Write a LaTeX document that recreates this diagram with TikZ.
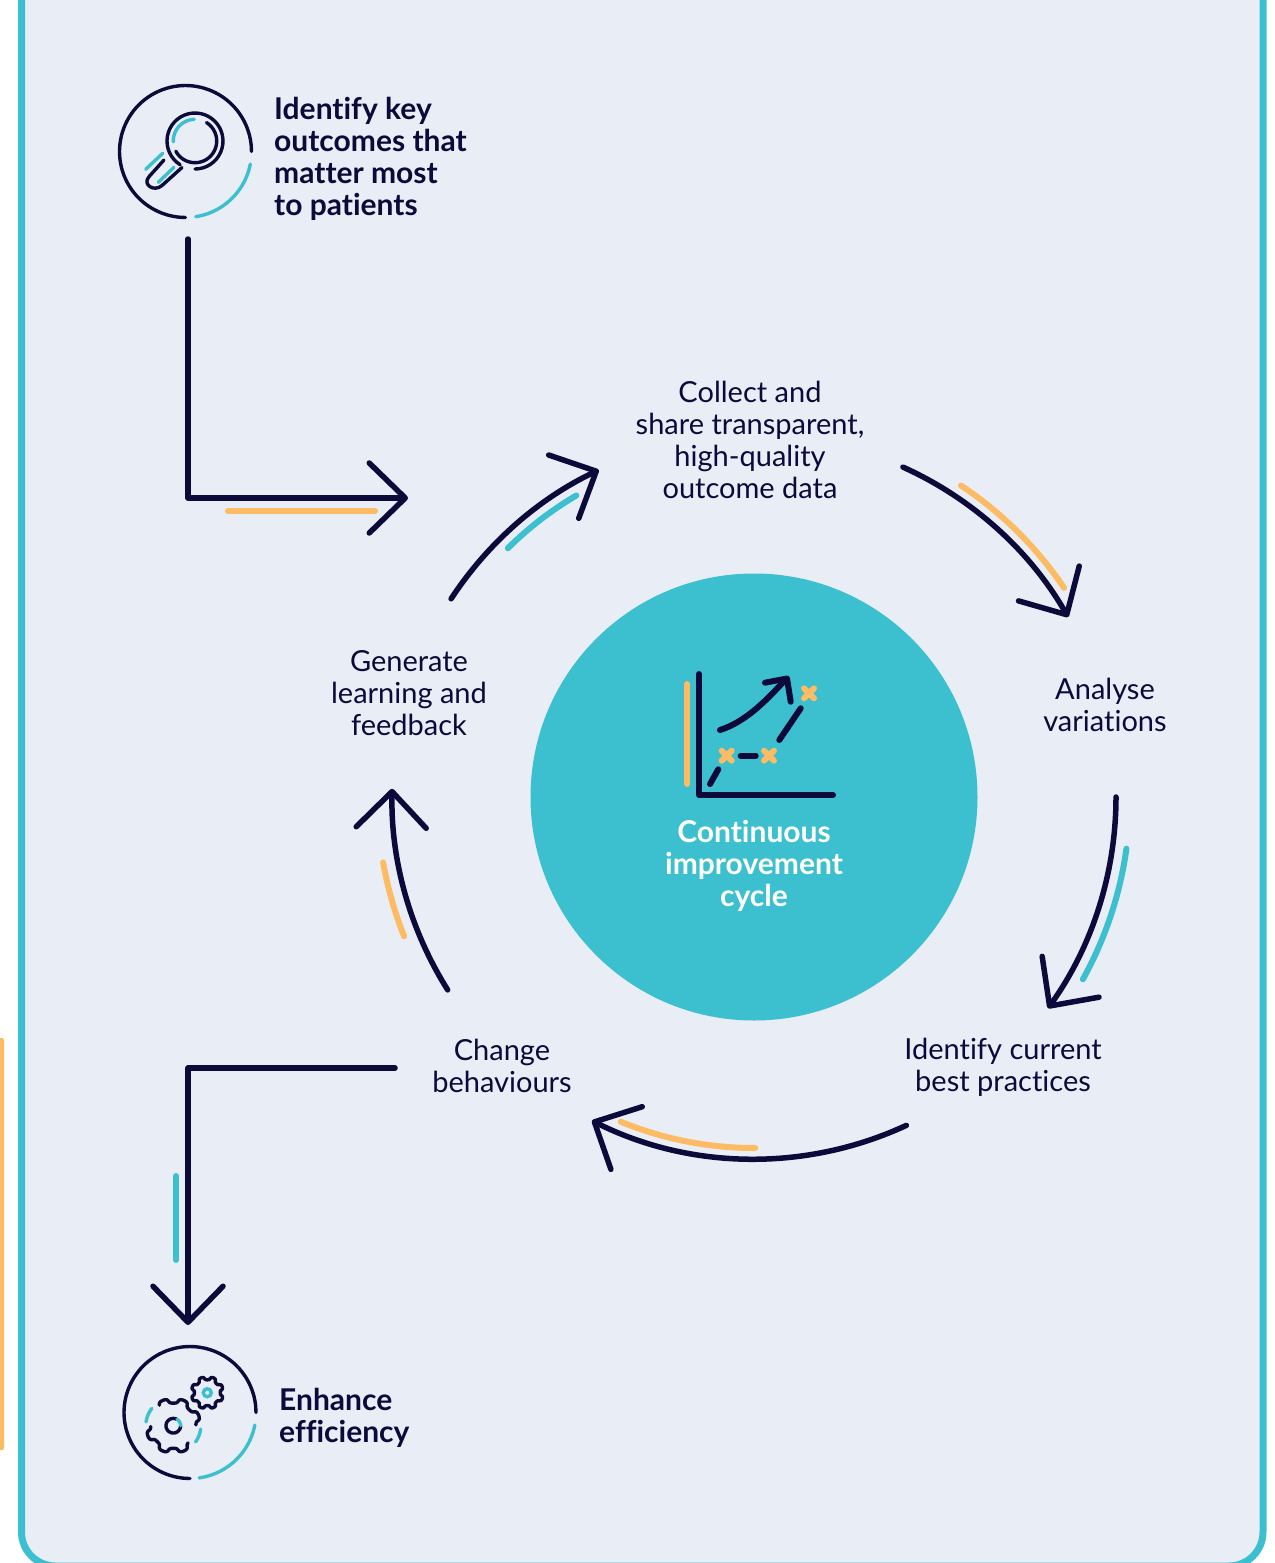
\documentclass[tikz,border=0pt]{standalone}
\usepackage{fontspec}
\setmainfont[Ligatures=CommonOff]{Lato}
\usetikzlibrary{arrows.meta}
\definecolor{navy}{HTML}{0B0A3A}
\definecolor{teal2}{HTML}{3CBFCF}
\definecolor{amber}{HTML}{FDBB63}
\definecolor{panel}{HTML}{E9EDF5}
\tikzset{
  flow/.style={draw=navy,line width=5.5pt,line cap=round,line join=round,
    -{Straight Barb[length=36pt,width=70pt,round,line width=5.5pt]}},
  plainline/.style={draw=navy,line width=3.4pt,line cap=round,line join=round},
  tealline/.style={draw=teal2,line width=3.4pt,line cap=round},
  accentO/.style={draw=amber,line width=6pt,line cap=round},
  accentT/.style={draw=teal2,line width=6pt,line cap=round},
  label/.style={font=\fontsize{29}{32}\selectfont,text=navy,align=center,inner sep=0pt},
  boldlabel/.style={font=\fontsize{30}{32}\selectfont\bfseries,text=navy,align=left,inner sep=0pt},
  chartline/.style={draw=navy,line width=6pt,line cap=round,line join=round},
  chartx/.style={draw=amber,line width=6pt,line cap=round},
}
% style, start angle, end angle, radius, name
\newcommand\cyc[5]{%
  \pgfmathsetmacro\kk{4/3*tan((#3-#2)/4)*#4}%
  \coordinate (#5a) at ({754+#4*cos(#2)},{797+#4*sin(#2)});
  \coordinate (#5b) at ({754+#4*cos(#3)},{797+#4*sin(#3)});
  \coordinate (#5c) at ({754+#4*cos(#2)-\kk*sin(#2)},{797+#4*sin(#2)+\kk*cos(#2)});
  \coordinate (#5d) at ({754+#4*cos(#3)+\kk*sin(#3)},{797+#4*sin(#3)-\kk*cos(#3)});
  \draw[#1] (#5a) .. controls (#5c) and (#5d) .. (#5b);
}
% style, cx, cy, r, a1, a2
\newcommand\circarc[6]{\draw[#1] plot[smooth,domain=#5:#6,samples=40,variable=\t] ({#2+#4*cos(\t)},{#3+#4*sin(\t)});}
% style,cx,cy,R,a,a1,a2,phase
\newcommand\geararc[8]{\draw[#1] plot[smooth,domain=#6:#7,samples=120,variable=\t] ({#2+(#4+#5*atan(3*cos(8*(\t+#8)))/71.6)*cos(\t)},{#3+(#4+#5*atan(3*cos(8*(\t+#8)))/71.6)*sin(\t)});}
\begin{document}
\begin{tikzpicture}[x=1pt,y=-1pt]
\clip (0,0) rectangle (1274,1563);
\fill[white] (0,0) rectangle (1274,1563);
% panel
\draw[draw=teal2,fill=panel,line width=7pt,rounded corners=34pt] (21.5,-60) rectangle (1263,1566);
\fill[amber,rounded corners=2pt] (-6,1038) rectangle (4,1450);

% centre
\node[circle,fill=teal2,minimum size=447pt,inner sep=0pt] (hub) at (754,797) {};
\node[font=\fontsize{30}{32}\selectfont\bfseries,text=white,align=center,inner sep=0pt] (hubtext) at (754,865.5) {Continuous\\improvement\\cycle};
% chart icon
\draw[chartline] (699,674) -- (699,795) -- (833,795);
\draw[accentO] (687.3,684) -- (687.3,784);
\draw[chartline] (720,730) .. controls (745,722) and (765,702) .. (786,679);
\draw[chartline] (765,682.7) -- (787,678.5) -- (790.7,701.7);
\draw[chartline] (710,784) -- (718.3,769.3);
\draw[chartline] (740.7,755.7) -- (755.7,755.7);
\draw[chartline] (779.3,740) -- (800.7,708.3);
\foreach \px/\py in {726.7/755.7,769/755.7,809/693.3}
  \draw[chartx] (\px-5,\py-5) -- (\px+5,\py+5) (\px-5,\py+5) -- (\px+5,\py-5);

% labels
\node[boldlabel,anchor=north west] (top) at (274,97.5) {Identify key\\outcomes that\\matter most\\to patients};
\node[boldlabel,anchor=north west] (bot) at (279,1387.5) {Enhance\\efficiency};
\node[label] (collect) at (750,439.5) {Collect and\\share transparent,\\high-quality\\outcome data};
\node[label] (analyse) at (1105,704.5) {Analyse\\variations};
\node[label] (best) at (1003,1067.5) {Identify current\\best practices};
\node[label] (change) at (502,1065.5) {Change\\behaviours};
\node[label] (gen) at (409,693.5) {Generate\\learning and\\feedback};

% straight connectors
\coordinate (iconout) at (188,239);
\coordinate (bend1) at (188,498);
\coordinate (into) at (408,498);
\draw[flow] (iconout) -- (bend1) -- (into);
\draw[accentO] (228,511) -- (375,511);
\coordinate (fromchange) at (395,1068);
\coordinate (bend2) at (188,1068);
\coordinate (iconin) at (188,1325);
\draw[flow] (fromchange) -- (bend2) -- (iconin);
\draw[accentT] (176,1176) -- (176,1260);

% cycle arrows
\cyc{flow}{213.2}{244.6}{362}{ga}
\cyc{flow}{-65.7}{-29.8}{362}{ca}
\cyc{flow}{0}{35.7}{362}{aa}
\cyc{flow}{65.1}{116.6}{362}{ba}
\cyc{flow}{147.8}{181.3}{362}{ha}
\cyc{accentO}{-56.4}{-34}{374}{o1}
\cyc{accentT}{7.9}{29}{376}{t1}
\cyc{accentO}{112.3}{89.8}{351}{o2}
\cyc{accentO}{170}{158.3}{376.6}{o3}
\cyc{accentT}{239.5}{225.3}{350}{t2}

% magnifier icon
\circarc{plainline}{185.5}{151.5}{66}{90}{360}
\circarc{tealline}{185.5}{151.5}{66}{11}{81}
\circarc{plainline}{195}{141}{28}{-238}{90}
\circarc{plainline}{195}{141}{21.7}{-58}{152}
\circarc{tealline}{195}{141}{21.7}{178}{268}
\draw[plainline] (182,167.5) -- (162,185.5) .. controls (154,192.5) and (142,184.5) .. (149,176.7) -- (164,160);
\draw[tealline] (145.7,169.3) -- (162.7,153.3);
\draw[tealline] (158.3,182.3) -- (174,167.3);

% gears icon
\circarc{plainline}{190}{1412.5}{66}{90}{360}
\circarc{tealline}{190}{1412.5}{66}{11}{82}
\geararc{plainline}{173.3}{1425.7}{25}{2.4}{236}{358}{22.5}
\geararc{plainline}{173.3}{1425.7}{25}{2.4}{49}{178}{22.5}
\circarc{tealline}{173.3}{1425.7}{27.5}{188}{219}
\circarc{tealline}{173.3}{1425.7}{27.5}{7}{36}
\circarc{plainline}{173.3}{1425.7}{7.3}{0}{300}
\circarc{tealline}{173.3}{1425.7}{7.3}{-60}{0}
\geararc{plainline}{207.3}{1392.7}{14.5}{1.6}{0}{360}{22.5}
\draw[tealline] (207.3,1392.7) circle[radius=4];
\end{tikzpicture}
\end{document}
